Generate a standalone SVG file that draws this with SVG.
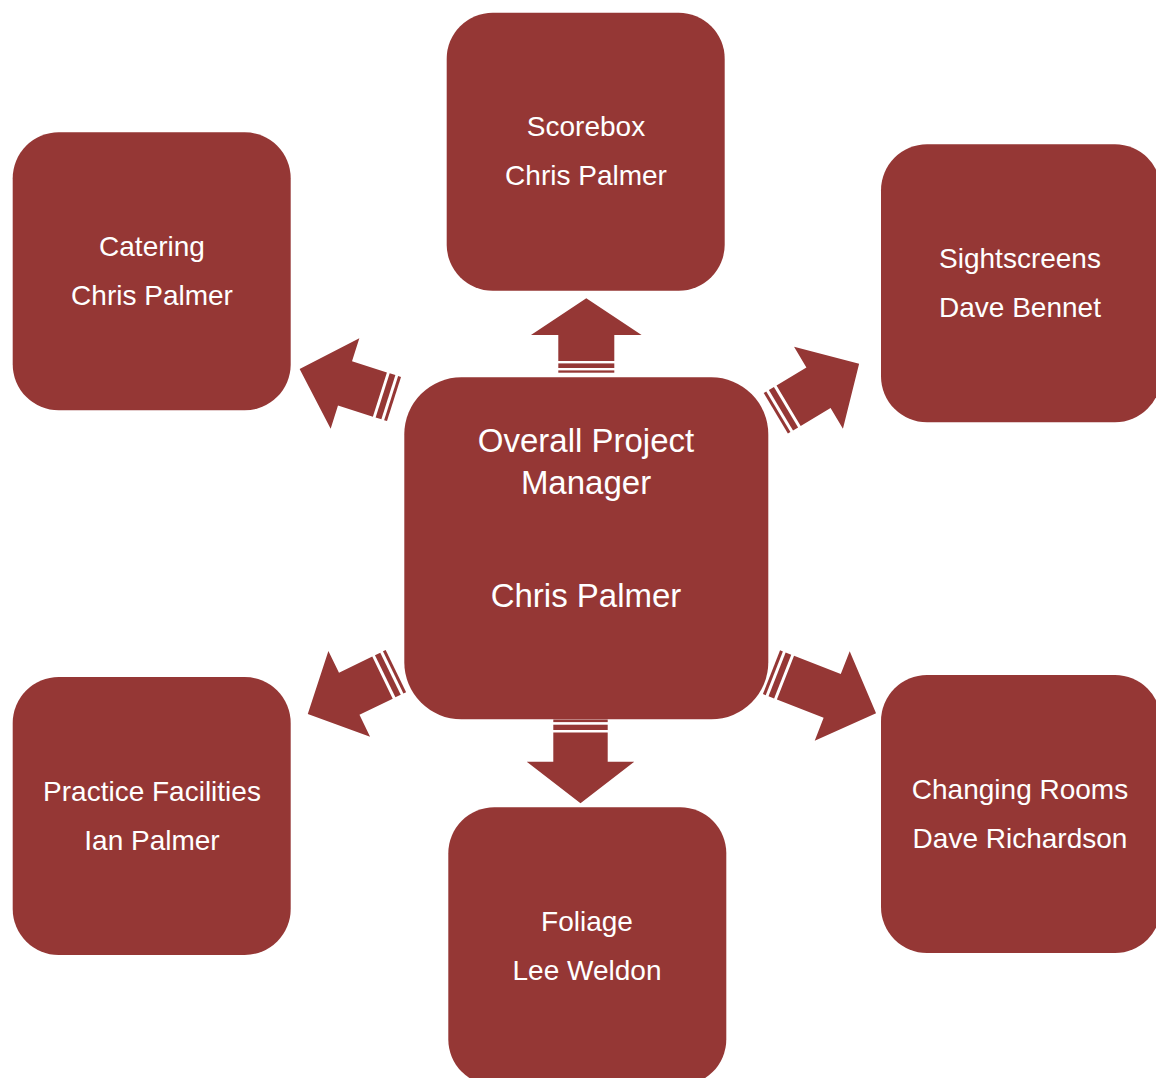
<svg xmlns="http://www.w3.org/2000/svg" width="1156" height="1078" viewBox="0 0 1156 1078">
<style>
.box{fill:#953735;}
.arr{fill:#953735;}
text{font-family:"Liberation Sans",Arial,sans-serif;fill:#ffffff;text-anchor:middle;font-size:28px;}
.big{font-size:33px;}
</style>
<rect width="1156" height="1078" fill="#ffffff"/>
<g id="connectors">
  <g id="arrow-up" class="arr" transform="translate(586.3,372.7) rotate(-90)">
    <rect x="0" y="-28" width="2.3" height="56"/>
    <rect x="4.7" y="-28" width="4.6" height="56"/>
    <polygon points="11.6,-28 37.7,-28 37.7,-55.3 74.4,0 37.7,55.3 37.7,28 11.6,28"/>
  </g>
  <g id="arrow-down" class="arr" transform="translate(580.5,719.5) rotate(90)">
    <rect x="0" y="-27.2" width="2.6" height="54.4"/>
    <rect x="5.2" y="-27.2" width="5.3" height="54.4"/>
    <polygon points="13.1,-27.2 42.2,-27.2 42.2,-53.8 83.8,0 42.2,53.8 42.2,27.2 13.1,27.2"/>
  </g>
  <g id="arrow-left-up" class="arr" transform="translate(394,399) rotate(-162.4)">
    <rect x="0" y="-23.2" width="3" height="46.4"/>
    <rect x="5.9" y="-23.2" width="6" height="46.4"/>
    <polygon points="14.8,-23.2 51.4,-23.2 51.4,-47.4 99,0 51.4,47.4 51.4,23.2 14.8,23.2"/>
  </g>
  <g id="arrow-right-up" class="arr" transform="translate(775.8,413.3) rotate(-30.8)">
    <rect x="0" y="-23.6" width="3" height="47.2"/>
    <rect x="6" y="-23.6" width="5.9" height="47.2"/>
    <polygon points="14.9,-23.6 49.7,-23.6 49.7,-47.75 97,0 49.7,47.75 49.7,23.6 14.9,23.6"/>
  </g>
  <g id="arrow-left-down" class="arr" transform="translate(395.9,671.1) rotate(154.05)">
    <rect x="0" y="-23.4" width="3" height="46.8"/>
    <rect x="6" y="-23.4" width="5.9" height="46.8"/>
    <polygon points="14.9,-23.4 51.9,-23.4 51.9,-47.65 98,0 51.9,47.65 51.9,23.4 14.9,23.4"/>
  </g>
  <g id="arrow-right-down" class="arr" transform="translate(771.5,672.2) rotate(21.4)">
    <rect x="0" y="-23.5" width="3" height="47"/>
    <rect x="6" y="-23.5" width="6" height="47"/>
    <polygon points="15,-23.5 65.2,-23.5 65.2,-47.95 112.3,0 65.2,47.95 65.2,23.5 15,23.5"/>
  </g>
</g>
<g id="node-center">
  <rect class="box" x="404.3" y="377.3" width="364" height="342" rx="57" ry="57"/>
  <text class="big" x="586" y="452">Overall Project</text>
  <text class="big" x="586" y="494">Manager</text>
  <text class="big" x="586" y="607">Chris Palmer</text>
</g>
<g id="node-scorebox">
  <rect class="box" x="446.7" y="12.7" width="278" height="278" rx="46" ry="46"/>
  <text x="586" y="136">Scorebox</text>
  <text x="586" y="185">Chris Palmer</text>
</g>
<g id="node-catering">
  <rect class="box" x="12.7" y="132.3" width="278" height="278" rx="46" ry="46"/>
  <text x="152" y="256">Catering</text>
  <text x="152" y="305">Chris Palmer</text>
</g>
<g id="node-sightscreens">
  <rect class="box" x="881" y="144.3" width="280" height="278" rx="46" ry="46"/>
  <text x="1020" y="268">Sightscreens</text>
  <text x="1020" y="317">Dave Bennet</text>
</g>
<g id="node-practice">
  <rect class="box" x="12.7" y="677" width="278" height="278" rx="46" ry="46"/>
  <text x="152" y="801">Practice Facilities</text>
  <text x="152" y="850">Ian Palmer</text>
</g>
<g id="node-foliage">
  <rect class="box" x="448.3" y="807.3" width="278" height="278" rx="46" ry="46"/>
  <text x="587" y="931">Foliage</text>
  <text x="587" y="980">Lee Weldon</text>
</g>
<g id="node-changing">
  <rect class="box" x="881" y="675" width="280" height="278" rx="46" ry="46"/>
  <text x="1020" y="799">Changing Rooms</text>
  <text x="1020" y="848">Dave Richardson</text>
</g>
</svg>
